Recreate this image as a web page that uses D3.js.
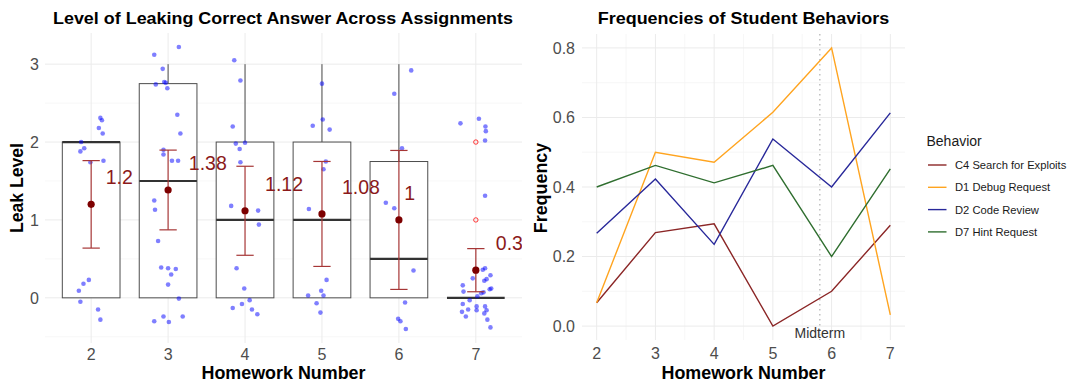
<!DOCTYPE html>
<html lang="en">
<head>
  <meta charset="UTF-8">
  <title>Leak Level and Student Behaviors</title>
  <style>
    body {
      margin: 0;
      background: #fff;
      font-family: 'Liberation Sans', Arial, sans-serif;
    }
    .grid-major { stroke: #ebebeb; stroke-width: 1; }
    .grid-minor { stroke: #f4f4f4; stroke-width: 0.7; }
    .tick-label { fill: #4d4d4d; font-size: 16px; }
    .axis-title { fill: #000; font-size: 17.5px; font-weight: bold; }
    .plot-title { fill: #000; font-size: 17px; font-weight: bold; }
  </style>
  <script src="https://cdn.jsdelivr.net/npm/d3@7"></script>
</head>
<body>
<svg width="1070" height="383"></svg>
<script>
  // ---- left chart: leak level per homework ----
  const homeworks = [2, 3, 4, 5, 6, 7];

  // each student: [leak level, jitter x, jittered y]
  const hw2 = [[2, .12, 2.31], [2, .14, 2.28], [2, .10, 2.18], [2, .15, 2.11], [2, -.13, 2.00], [2, -.09, 1.92],
    [2, -.14, 1.88], [2, -.01, 1.74], [2, .16, 1.76],
    [0, -.03, .23], [0, -.10, .18], [0, -.16, .09], [0, -.14, -.05], [0, .09, -.15], [0, .12, -.28]];
  const hw3 = [[3, .14, 3.22], [3, -.18, 3.12], [3, -.07, 2.94], [3, -.05, 2.77], [3, -.03, 2.76], [3, -.16, 2.74],
    [3, -.01, 2.69],
    [2, .12, 2.35], [2, .16, 2.11], [2, -.06, 1.90], [2, -.06, 1.84], [2, .05, 1.76], [2, .13, 1.76],
    [1, -.18, 1.25], [1, -.17, 1.13], [1, -.13, .73],
    [0, -.09, .39], [0, 0, .38], [0, .10, .37], [0, .04, .30], [0, 0, .17], [0, .14, -.01], [0, -.06, -.24],
    [0, .19, -.24], [0, -.18, -.30], [0, .01, -.31]];
  const hw4 = [[3, -.14, 3.05], [3, -.06, 2.79],
    [2, -.16, 2.20], [2, -.12, 1.98], [2, 0, 1.99], [2, -.07, 1.91], [2, -.06, 1.74],
    [1, -.18, 1.18], [1, .17, 1.12], [1, .18, .94],
    [0, -.11, .38], [0, -.01, .12], [0, .06, -.03], [0, -.04, -.08], [0, -.16, -.13], [0, .09, -.15], [0, .16, -.21]];
  const hw5 = [[3, 0, 2.75],
    [2, -.12, 2.21], [2, .01, 2.29], [2, .10, 2.16], [2, .05, 1.75], [2, .02, 1.65],
    [1, -.17, 1.14],
    [0, .06, .23], [0, -.01, .09], [0, -.18, .03], [0, .02, .03], [0, -.07, -.07], [0, -.02, -.19]];
  const hw6 = [[3, .16, 2.92], [3, -.06, 2.62],
    [2, .04, 1.92],
    [1, -.17, 1.22], [1, -.06, 1.15],
    [0, .19, .35], [0, .08, -.06], [0, -.01, -.27], [0, .02, -.30], [0, .09, -.40]];
  const hw7 = [[2, -.20, 2.24], [2, .04, 2.30], [2, .125, 2.20], [2, .13, 2.14], [2, .12, 2.02],
    [1, .12, 1.31],
    [0, .12, .38], [0, .09, .36], [0, .19, .29], [0, -.04, .25], [0, .11, .22], [0, -.17, .16], [0, .18, .11],
    [0, -.16, .08], [0, .10, .07], [0, -.08, -.03], [0, .02, .02], [0, -.17, -.08], [0, .01, -.11], [0, .12, -.11],
    [0, -.10, -.15], [0, .01, -.16], [0, .14, -.16], [0, -.18, -.18], [0, .11, -.20], [0, -.13, -.24], [0, .15, -.28],
    [0, .19, -.38], [0, .07, .06], [0, .20, .12], [0, .14, .24]];
  const students = [hw2, hw3, hw4, hw5, hw6, hw7];

  // horizontal jitter of the mean labels
  const labelJitter = [0.19, 0.27, 0.26, 0.26, 0.07, 0.26];
  const leakTicks = [0, 1, 2, 3];

  // ---- right chart: behavior frequencies ----
  const behaviors = ['C4 Search for Exploits', 'D1 Debug Request', 'D2 Code Review', 'D7 Hint Request'];
  const c4 = [0.067, 0.269, 0.294, 0.0, 0.10, 0.290];
  const d1 = [0.067, 0.500, 0.471, 0.615, 0.80, 0.032];
  const d2 = [0.267, 0.423, 0.235, 0.538, 0.40, 0.613];
  const d7 = [0.400, 0.462, 0.412, 0.462, 0.20, 0.452];
  const behaviorColors = ['#8b2626', '#ffa41f', '#28289a', '#2f6e2f'];
  const freqTicks = [0, 0.2, 0.4, 0.6, 0.8];
  const midterm = 5.8;

  const svg = d3.select('svg');

  // t quantile (97.5%) by Cornish-Fisher expansion, good enough for df >= 9
  function tq(df) {
    const z = 1.959964, z3 = z ** 3, z5 = z ** 5, z7 = z ** 7;
    return z + (z3 + z) / (4 * df) + (5 * z5 + 16 * z3 + 3 * z) / (96 * df * df)
      + (3 * z7 + 19 * z5 + 17 * z3 - 15 * z) / (384 * df ** 3);
  }

  const stats = students.map((rows, i) => {
    const v = rows.map(r => r[0]).sort(d3.ascending);
    const q1 = d3.quantile(v, 0.25), med = d3.quantile(v, 0.5), q3 = d3.quantile(v, 0.75);
    const iqr = q3 - q1;
    const inside = v.filter(x => x >= q1 - 1.5 * iqr && x <= q3 + 1.5 * iqr);
    const mean = d3.mean(v), se = d3.deviation(v) / Math.sqrt(v.length);
    const half = tq(v.length - 1) * se;
    return {
      hw: homeworks[i], q1, med, q3,
      lo: d3.min(inside), hi: d3.max(inside),
      outliers: Array.from(new Set(v.filter(x => x < q1 - 1.5 * iqr || x > q3 + 1.5 * iqr))),
      mean, ciLo: mean - half, ciHi: mean + half,
      label: String(Math.round(mean * 100) / 100), nudge: labelJitter[i]
    };
  });

  // ---------- left panel ----------
  const L = {left: 45, right: 522, top: 33, bottom: 343};
  const xL = d3.scalePoint().domain(homeworks).range([L.left, L.right]).padding(0.6);
  const step = xL.step();
  const yL = d3.scaleLinear().domain([-0.58, 3.40]).range([L.bottom, L.top]);

  const left = svg.append('g');
  left.append('clipPath').attr('id', 'clipL').append('rect')
    .attr('x', L.left).attr('y', L.top).attr('width', L.right - L.left).attr('height', L.bottom - L.top);

  left.append('g').selectAll('line').data([-0.5, 0.5, 1.5, 2.5]).join('line')
    .attr('class', 'grid-minor')
    .attr('x1', L.left).attr('x2', L.right).attr('y1', d => yL(d)).attr('y2', d => yL(d));
  left.append('g').selectAll('line').data(leakTicks).join('line')
    .attr('class', 'grid-major')
    .attr('x1', L.left).attr('x2', L.right).attr('y1', d => yL(d)).attr('y2', d => yL(d));
  left.append('g').selectAll('line').data(homeworks).join('line')
    .attr('class', 'grid-major')
    .attr('x1', d => xL(d)).attr('x2', d => xL(d)).attr('y1', L.top).attr('y2', L.bottom);

  const plotL = left.append('g').attr('clip-path', 'url(#clipL)');
  const boxW = 0.75 * step;

  const box = plotL.append('g').selectAll('g').data(stats).join('g');
  box.append('line')
    .attr('x1', d => xL(d.hw)).attr('x2', d => xL(d.hw))
    .attr('y1', d => yL(d.q3)).attr('y2', d => yL(d.hi))
    .attr('stroke', '#4d4d4d').attr('stroke-width', 1);
  box.append('line')
    .attr('x1', d => xL(d.hw)).attr('x2', d => xL(d.hw))
    .attr('y1', d => yL(d.q1)).attr('y2', d => yL(d.lo))
    .attr('stroke', '#4d4d4d').attr('stroke-width', 1);
  box.append('rect')
    .attr('x', d => xL(d.hw) - boxW / 2).attr('width', boxW)
    .attr('y', d => yL(d.q3)).attr('height', d => Math.max(0, yL(d.q1) - yL(d.q3)))
    .attr('fill', '#fff').attr('stroke', '#4d4d4d').attr('stroke-width', 1);
  box.append('line')
    .attr('x1', d => xL(d.hw) - boxW / 2).attr('x2', d => xL(d.hw) + boxW / 2)
    .attr('y1', d => yL(d.med)).attr('y2', d => yL(d.med))
    .attr('stroke', '#333').attr('stroke-width', 2.2);
  box.selectAll('circle').data(d => d.outliers.map(o => ({hw: d.hw, v: o}))).join('circle')
    .attr('cx', d => xL(d.hw)).attr('cy', d => yL(d.v)).attr('r', 2.2)
    .attr('fill', 'none').attr('stroke', '#ff2020').attr('stroke-width', 0.9);

  // jittered students
  plotL.append('g').selectAll('g').data(students).join('g')
    .selectAll('circle').data((rows, i) => rows.map(r => ({hw: homeworks[i], dx: r[1], y: r[2]}))).join('circle')
    .attr('cx', d => xL(d.hw) + d.dx * step).attr('cy', d => yL(d.y)).attr('r', 2.3)
    .attr('fill', '#0000ff').attr('fill-opacity', 0.5);

  // mean and 95% CI
  const capW = 0.225 * step;
  const eb = plotL.append('g').selectAll('g').data(stats).join('g')
    .attr('stroke', '#a63636').attr('stroke-width', 1.2);
  eb.append('line')
    .attr('x1', d => xL(d.hw)).attr('x2', d => xL(d.hw))
    .attr('y1', d => yL(d.ciLo)).attr('y2', d => yL(d.ciHi));
  eb.append('line')
    .attr('x1', d => xL(d.hw) - capW / 2).attr('x2', d => xL(d.hw) + capW / 2)
    .attr('y1', d => yL(d.ciHi)).attr('y2', d => yL(d.ciHi));
  eb.append('line')
    .attr('x1', d => xL(d.hw) - capW / 2).attr('x2', d => xL(d.hw) + capW / 2)
    .attr('y1', d => yL(d.ciLo)).attr('y2', d => yL(d.ciLo));
  plotL.append('g').selectAll('circle').data(stats).join('circle')
    .attr('cx', d => xL(d.hw)).attr('cy', d => yL(d.mean)).attr('r', 3.6)
    .attr('fill', '#7d0000');
  plotL.append('g').selectAll('text').data(stats).join('text')
    .attr('x', d => xL(d.hw) + d.nudge * step).attr('y', d => yL(d.mean + 0.35))
    .attr('dy', '0.36em')
    .attr('fill', '#8b1a1a').style('font-size', '19.5px')
    .text(d => d.label);

  // axes
  left.append('g').selectAll('text').data(leakTicks).join('text')
    .attr('class', 'tick-label').attr('text-anchor', 'end')
    .attr('x', L.left - 6).attr('y', d => yL(d)).attr('dy', '0.36em').text(d => d);
  left.append('g').selectAll('text').data(homeworks).join('text')
    .attr('class', 'tick-label').attr('text-anchor', 'middle')
    .attr('x', d => xL(d)).attr('y', 360).text(d => d);
  left.append('text').attr('class', 'axis-title').attr('text-anchor', 'middle')
    .attr('x', (L.left + L.right) / 2).attr('y', 379)
    .attr('textLength', 164).attr('lengthAdjust', 'spacingAndGlyphs')
    .text('Homework Number');
  left.append('text').attr('class', 'axis-title').attr('text-anchor', 'middle')
    .attr('transform', `translate(23,${(L.top + L.bottom) / 2}) rotate(-90)`)
    .attr('textLength', 90).attr('lengthAdjust', 'spacingAndGlyphs')
    .text('Leak Level');
  left.append('text').attr('class', 'plot-title').attr('text-anchor', 'middle')
    .attr('x', 283).attr('y', 23.5)
    .attr('textLength', 460).attr('lengthAdjust', 'spacingAndGlyphs')
    .text('Level of Leaking Correct Answer Across Assignments');

  // ---------- right panel ----------
  const R = {left: 582, right: 905, top: 34, bottom: 340};
  const xR = d3.scaleLinear().domain([1.75, 7.25]).range([R.left, R.right]);
  const yR = d3.scaleLinear().domain([-0.04, 0.84]).range([R.bottom, R.top]);
  const right = svg.append('g');

  right.append('g').selectAll('line').data([0.1, 0.3, 0.5, 0.7]).join('line')
    .attr('class', 'grid-minor')
    .attr('x1', R.left).attr('x2', R.right).attr('y1', d => yR(d)).attr('y2', d => yR(d));
  right.append('g').selectAll('line').data([2.5, 3.5, 4.5, 5.5, 6.5]).join('line')
    .attr('class', 'grid-minor')
    .attr('x1', d => xR(d)).attr('x2', d => xR(d)).attr('y1', R.top).attr('y2', R.bottom);
  right.append('g').selectAll('line').data(freqTicks).join('line')
    .attr('class', 'grid-major')
    .attr('x1', R.left).attr('x2', R.right).attr('y1', d => yR(d)).attr('y2', d => yR(d));
  right.append('g').selectAll('line').data(homeworks).join('line')
    .attr('class', 'grid-major')
    .attr('x1', d => xR(d)).attr('x2', d => xR(d)).attr('y1', R.top).attr('y2', R.bottom);

  right.append('line')
    .attr('x1', xR(midterm)).attr('x2', xR(midterm)).attr('y1', R.top).attr('y2', R.bottom)
    .attr('stroke', '#aaa').attr('stroke-width', 1.1).attr('stroke-dasharray', '1.5,3.5');
  right.append('text')
    .attr('x', xR(midterm)).attr('y', 337.5).attr('text-anchor', 'middle')
    .attr('fill', '#333').style('font-size', '14px').text('Midterm');

  const series = [c4, d1, d2, d7];
  const line = d3.line().x((d, i) => xR(homeworks[i])).y(d => yR(d));
  right.append('g').selectAll('path').data(series).join('path')
    .attr('d', line).attr('fill', 'none')
    .attr('stroke', (d, i) => behaviorColors[i]).attr('stroke-width', 1.4);

  right.append('g').selectAll('text').data(freqTicks).join('text')
    .attr('class', 'tick-label').attr('text-anchor', 'end')
    .attr('x', R.left - 7).attr('y', d => yR(d)).attr('dy', '0.36em').text(d => d3.format('.1f')(d));
  right.append('g').selectAll('text').data(homeworks).join('text')
    .attr('class', 'tick-label').attr('text-anchor', 'middle')
    .attr('x', d => xR(d)).attr('y', 359).text(d => d);
  right.append('text').attr('class', 'axis-title').attr('text-anchor', 'middle')
    .attr('x', (R.left + R.right) / 2).attr('y', 378.5)
    .attr('textLength', 164).attr('lengthAdjust', 'spacingAndGlyphs')
    .text('Homework Number');
  right.append('text').attr('class', 'axis-title').attr('text-anchor', 'middle')
    .attr('transform', `translate(546.5,${(R.top + R.bottom) / 2 + 1}) rotate(-90)`)
    .attr('textLength', 90.5).attr('lengthAdjust', 'spacingAndGlyphs')
    .text('Frequency');
  right.append('text').attr('class', 'plot-title').attr('text-anchor', 'middle')
    .attr('x', (R.left + R.right) / 2).attr('y', 24.3)
    .attr('textLength', 291.6).attr('lengthAdjust', 'spacingAndGlyphs')
    .text('Frequencies of Student Behaviors');

  // legend
  const legend = right.append('g');
  legend.append('text').attr('x', 926.5).attr('y', 145.8)
    .attr('fill', '#1a1a1a').style('font-size', '14px').text('Behavior');
  const item = legend.selectAll('g.item').data(behaviors).join('g').attr('class', 'item')
    .attr('transform', (d, i) => `translate(0,${165 + i * 22.3})`);
  item.append('line').attr('x1', 928).attr('x2', 946.5).attr('y1', 0).attr('y2', 0)
    .attr('stroke', (d, i) => behaviorColors[i]).attr('stroke-width', 1.4);
  item.append('text').attr('x', 955).attr('y', 0).attr('dy', '0.36em')
    .attr('fill', '#1a1a1a').style('font-size', '11.2px').text(d => d);
</script>
</body>
</html>
